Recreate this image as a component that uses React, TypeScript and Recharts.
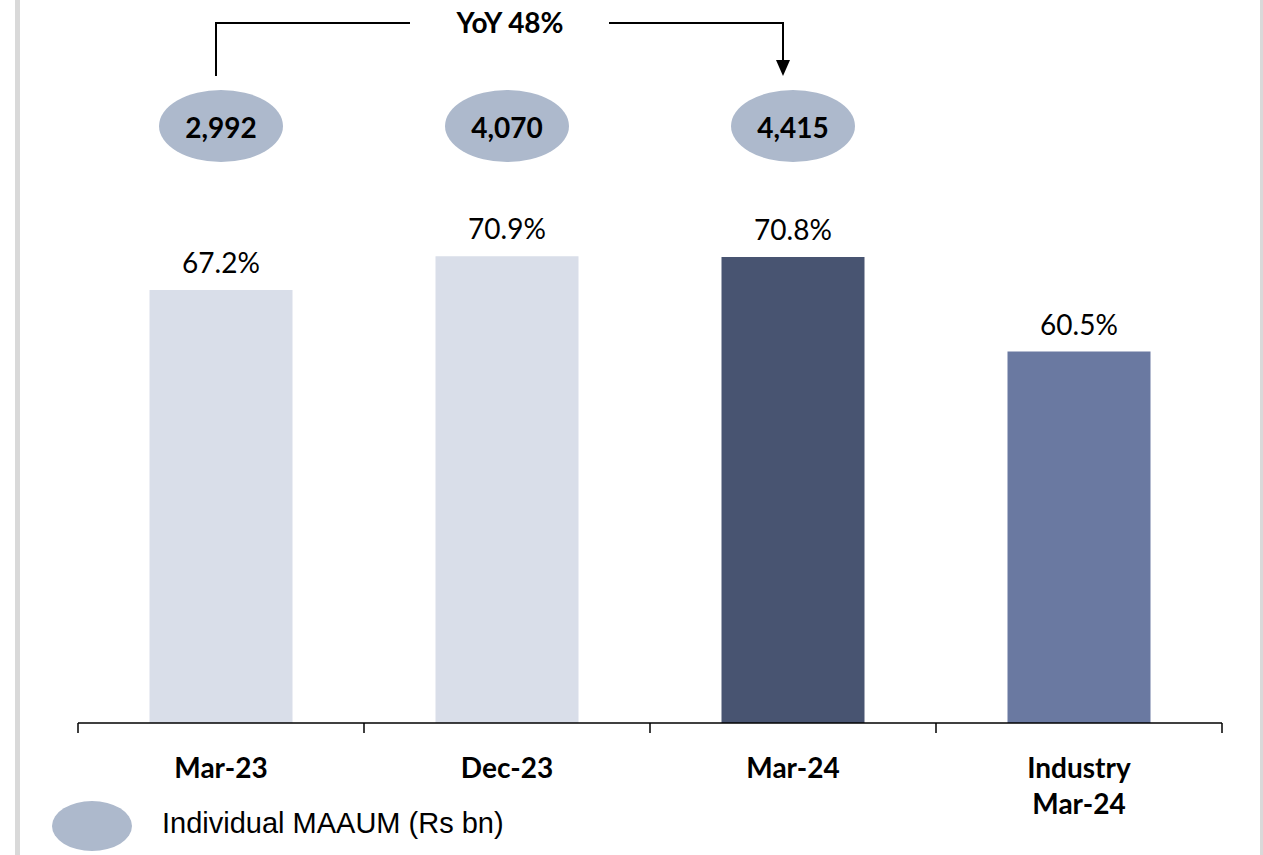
import { Bar, BarChart, Cell, LabelList, XAxis, YAxis } from "recharts"

const categories = ["Mar-23", "Dec-23", "Mar-24", "Industry\nMar-24"]
const shareValues = [67.2, 70.9, 70.8, 60.5]
const maaumValues: (number | null)[] = [2992, 4070, 4415, null]
const barColors = ["#D9DEE9", "#D9DEE9", "#485471", "#6A79A1"]

const data = categories.map((name, i) => ({
    name,
    share: shareValues[i],
    maaum: maaumValues[i],
}))

const yoy = Math.round((maaumValues[2]! / maaumValues[0]! - 1) * 100)

const FONT = "Lato, 'Open Sans', sans-serif"
const BUBBLE_FILL = "#ADB9CC"

function CategoryTick(props: any) {
    const { x, y, payload, index } = props
    const half = payload?.offset ?? 143
    const lines = String(payload.value).split("\n")
    return (
        <g>
            <line x1={x - half} x2={x - half} y1={y - 8} y2={y + 2} stroke="#000" strokeWidth={1.5} />
            {index === categories.length - 1 && (
                <line x1={x + half} x2={x + half} y1={y - 8} y2={y + 2} stroke="#000" strokeWidth={1.5} />
            )}
            {lines.map((line, i) => (
                <text
                    key={i}
                    x={x}
                    y={y + 36 + i * 36}
                    textAnchor="middle"
                    dominantBaseline="central"
                    fontFamily={FONT}
                    fontWeight={700}
                    fontSize={28}
                    fill="#000"
                >
                    {line}
                </text>
            ))}
        </g>
    )
}

// bubble with the MAAUM figure plus the YoY bracket pieces
function MaaumBubble(props: any) {
    const { x, width, value, index } = props
    if (value == null) return null
    const cx = x + width / 2
    const cy = 126
    return (
        <g>
            <ellipse cx={cx} cy={cy} rx={62} ry={36} fill={BUBBLE_FILL} />
            <text
                x={cx}
                y={cy + 1}
                textAnchor="middle"
                dominantBaseline="central"
                fontFamily={FONT}
                fontWeight={700}
                fontSize={28}
                fill="#000"
            >
                {value.toLocaleString("en-US")}
            </text>
            {index === 0 && (
                <polyline
                    points={`${cx - 5},76 ${cx - 5},23 ${cx + 189},23`}
                    fill="none"
                    stroke="#000"
                    strokeWidth={2}
                />
            )}
            {index === 1 && (
                <text
                    x={cx + 3}
                    y={22}
                    textAnchor="middle"
                    dominantBaseline="central"
                    fontFamily={FONT}
                    fontWeight={700}
                    fontSize={28}
                    fill="#000"
                >
                    {`YoY ${yoy}%`}
                </text>
            )}
            {index === 2 && (
                <g>
                    <polyline
                        points={`${cx - 184},23 ${cx - 10},23 ${cx - 10},62`}
                        fill="none"
                        stroke="#000"
                        strokeWidth={2}
                    />
                    <polygon points={`${cx - 17},60 ${cx - 3},60 ${cx - 10},76`} fill="#000" />
                </g>
            )}
        </g>
    )
}

export default function App() {
    return (
        <div style={{ position: "absolute", left: 0, top: 0, width: 1263, height: 855, background: "#fff" }}>
            <div style={{ position: "absolute", left: 15, top: 0, width: 5, height: 855, background: "#D9D9D9" }} />
            <div style={{ position: "absolute", left: 1260, top: 0, width: 3, height: 855, background: "#D9D9D9" }} />

            <BarChart
                width={1263}
                height={855}
                data={data}
                margin={{ top: 81, right: 41, bottom: 32, left: 78 }}
                barCategoryGap="25%"
            >
                <YAxis hide domain={[20, 90]} />
                <XAxis
                    dataKey="name"
                    height={100}
                    interval={0}
                    tickLine={false}
                    axisLine={{ stroke: "#000", strokeWidth: 1.5 }}
                    tick={<CategoryTick />}
                />
                <Bar dataKey="share" isAnimationActive={false}>
                    {data.map((_, i) => (
                        <Cell key={i} fill={barColors[i]} />
                    ))}
                    <LabelList
                        dataKey="share"
                        position="top"
                        offset={17}
                        formatter={(v: any) => `${Number(v).toFixed(1)}%`}
                        style={{ fontFamily: FONT, fontSize: 28, fill: "#000" }}
                    />
                    <LabelList dataKey="maaum" content={<MaaumBubble />} />
                </Bar>
            </BarChart>

            <div
                style={{
                    position: "absolute",
                    left: 52,
                    top: 801,
                    display: "flex",
                    alignItems: "center",
                    fontFamily: "'Liberation Sans', Arial, sans-serif",
                    fontSize: 29,
                    color: "#000",
                }}
            >
                <svg width={80} height={50}>
                    <ellipse cx={40} cy={25} rx={40} ry={25} fill={BUBBLE_FILL} />
                </svg>
                <span style={{ marginLeft: 30, marginTop: -6 }}>Individual MAAUM (Rs bn)</span>
            </div>
        </div>
    )
}
